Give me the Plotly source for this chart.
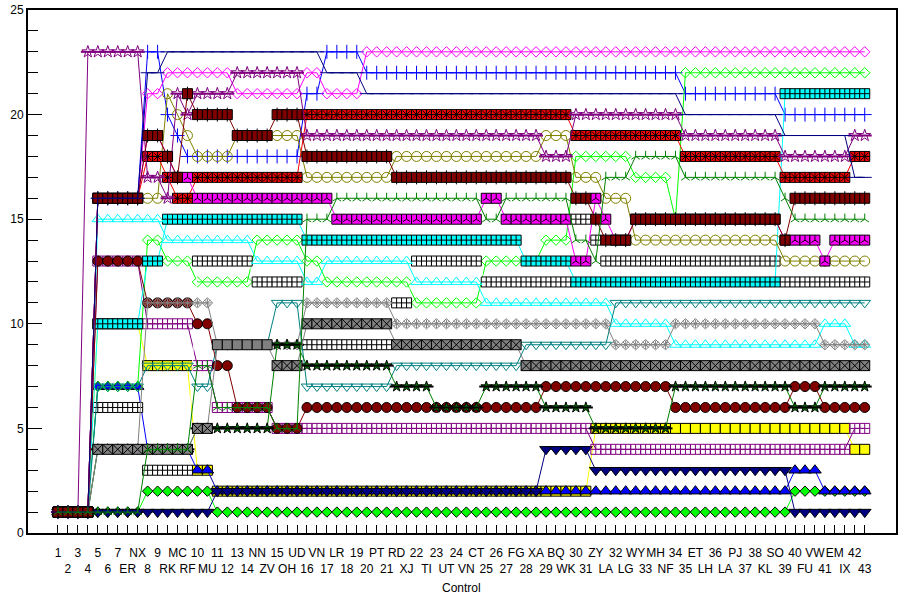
import plotly.graph_objects as go

labels = ["1","2","3","4","5","6","7","ER","NX","8","9","RK","MC","RF","10","MU","11","12","13","14","NN","ZV","15","OH","UD","16","VN","17","LR","18","19","20","PT","21","RD","XJ","22","TI","23","UT","24","VN","CT","25","26","27","FG","28","XA","29","BQ","WK","30","31","ZY","LA","32","LG","WY","33","MH","NF","34","35","ET","LH","36","LA","PJ","37","38","KL","SO","39","40","FU","VW","41","EM","IX","42","43"]

maroon_sq = [1,1,1,1, 16,16,16,16,16, 19,19, 18, 17, 21, 20,20,20,20, 19,19,19,19, 20,20,20, 18,18,18,18,18,18,18,18,18, 17,17,17,17,17,17,17,17,17,17,17,17,17,17,17,17,17,17, 16,16, 15, 14,14,14, 15,15,15,15,15,15,15,15,15,15,15,15,15,15,15, 14, 16,16,16,16,16,16,16,16]
red_sq = [1,1,1,1, 16,16,16,16,16, 18,18, 17, 16,16, 17,17,17,17,17,17,17,17,17,17,17, 20,20,20,20,20,20,20,20,20,20,20,20,20,20,20,20,20,20,20,20,20,20,20,20,20,20,20, 19,19,19,19,19,19,19,19,19,19,19, 18,18,18,18,18,18,18,18,18,18, 17,17,17,17,17,17,17, 18,18]
magenta_sq = [1,1,1,1, 16,16,16,16,16, 19,19, 18, 17, 17, 16,16,16,16,16,16,16,16,16,16,16,16,16,16, 15,15,15,15,15,15,15,15,15,15,15,15,15,15,15, 16,16, 15,15,15,15,15,15,15, 13,13, 16, 15, 14,14, 15,15,15,15,15,15,15,15,15,15,15,15,15,15,15, 14,14,14,14, 13, 14,14,14,14]
cyan_sq = [1,1,1,1, 10,10,10,10,10, 13,13, 15,15,15,15,15,15,15,15,15,15,15,15,15,15, 14,14,14,14,14,14,14,14,14,14,14,14,14,14,14,14,14,14,14,14,14,14, 13,13,13,13,13, 12,12,12,12,12,12,12,12,12,12,12,12,12,12,12,12,12,12,12,12,12, 21,21,21,21,21,21,21,21,21]
white_sq = [1,1,1,1, 6,6,6,6,6, 3,3,3,3,3, 13,13,13,13,13,13, 12,12,12,12,12, 9,9,9,9,9,9,9,9,9, 11,11, 13,13,13,13,13,13,13, 12,12,12,12,12,12,12,12,12, 15,15, 14, 13,13,13,13,13,13,13,13,13,13,13,13,13,13,13,13,13,13, 12,12,12,12,12,12,12,12,12]
gray_x = [1,1,1,1, 4,4,4,4,4,4,4,4,4,4, 5,5, 9,9,9,9,9,9, 8,8,8, 10,10,10,10,10,10,10,10,10, 9,9,9,9,9,9,9,9,9,9,9,9,9, 8,8,8,8,8,8,8,8,8,8,8,8,8,8,8,8,8,8,8,8,8,8,8,8,8,8,8,8,8,8,8,8,8,8,8]
yellow_sq = [1,1,1,1, 10,10,10,10,10, 8,8,8,8,8, 3,3, 2,2,2,2,2,2,2,2,2,2,2,2,2,2,2,2,2,2,2,2,2,2,2,2,2,2,2,2,2,2,2,2,2,2,2,2,2,2, 5,5,5,5,5,5,5,5,5,5,5,5,5,5,5,5,5,5,5,5,5,5,5,5,5,5, 4,4]
navy_down = [1,1,1,1,1,1,1,1,1,1,1,1,1,1,1,1, 2,2,2,2,2,2,2,2,2,2,2,2,2,2,2,2,2,2,2,2,2,2,2,2,2,2,2,2,2,2,2,2,2, 4,4,4,4,4, 3,3,3,3,3,3,3,3,3,3,3,3,3,3,3,3,3,3,3,3, 1,1,1,1,1,1,1,1]
blue_up = [1,1,1,1, 7,7,7,7,7, 4,4,4,4,4, 3,3, 2,2,2,2,2,2,2,2,2,2,2,2,2,2,2,2,2,2,2,2,2,2,2,2,2,2,2,2,2,2,2,2,2,2,2,2,2,2,2,2,2,2,2,2,2,2,2,2,2,2,2,2,2,2,2,2,2,2, 3,3,3, 2,2,2,2,2]
green_dia = [1,1,1,1,1,1,1,1,1, 2,2,2,2,2,2,2, 1,1,1,1,1,1,1,1,1,1,1,1,1,1,1,1,1,1,1,1,1,1,1,1,1,1,1,1,1,1,1,1,1,1,1,1,1,1,1,1,1,1,1,1,1,1,1,1,1,1,1,1,1,1,1,1,1,1, 2,2,2,2,2,2,2,2]
maroon_circ = [1,1,1,1, 13,13,13,13,13, 11,11,11,11,11, 10,10, 8,8, 6,6,6,6, 5,5,5, 6,6,6,6,6,6,6,6,6,6,6,6,6,6,6,6,6,6,6,6,6,6,6,6, 7,7,7,7,7,7,7,7,7,7,7,7,7, 6,6,6,6,6,6,6,6,6,6,6,6, 7,7,7, 6,6,6,6,6]
dark_star = [1,1,1,1, 4,4,4,4,4,4,4,4,4,4, 5,5, 5,5,5,5,5,5, 9,9,9, 8,8,8,8,8,8,8,8,8, 7,7,7,7, 6,6,6,6,6, 7,7,7,7,7,7, 6,6,6,6,6, 5,5,5,5,5,5,5,5, 7,7,7,7,7,7,7,7,7,7,7,7, 6,6,6, 7,7,7,7,7]
purple_grid = [1,1,1,1, 13,13,13,13,13, 10,10,10,10,10, 8,8, 6,6,6,6,6,6, 5,5,5,5,5,5,5,5,5,5,5,5,5,5,5,5,5,5,5,5,5,5,5,5,5,5,5,5,5,5,5,5, 4,4,4,4,4,4,4,4,4,4,4,4,4,4,4,4,4,4,4,4,4,4,4,4,4,4, 5,5]
olive_circ = [1,1,1,1, 16,16,16,16,16, 16,16, 21, 20, 19, 18,18,18,18, 19,19,19,19, 19,19,19, 17,17,17,17,17,17,17,17,17, 18,18,18,18,18,18,18,18,18,18,18,18,18,18,18, 19,19,19, 17,17,17, 16,16,16, 14,14,14,14,14,14,14,14,14,14,14,14,14,14,14, 13,13,13,13,13,13,13,13,13]
bright_dia = [1,1,1,1, 7,7,7,7,7, 14,14, 13,13,13, 12,12,12,12,12,12, 14,14,14,14,14, 13,13, 12,12,12,12,12,12,12,12,12, 11,11,11,11,11,11,11, 13,13,13,13,13,13, 14,14,14, 18,18,18,18,18,18, 17,17,17,17, 15, 22,22,22,22,22,22,22,22,22,22,22,22,22,22,22,22,22,22,22]
green_zig = [1,1,1,1,1,1,1,1,1, 4,4,4,4,4, 8,8, 6,6,6,6,6,6, 5,5,5, 15,15,15, 16,16,16,16,16,16,16,16,16,16,16,16,16,16,16, 15,15, 16,16,16,16,16,16,16, 14,14, 13, 17,17,17, 18,18,18,18,18, 17,17,17,17,17,17,17,17,17,17, 16, 15,15,15,15,15,15,15,15]
magenta_dia = [1,1,1,1, 16,16,16,16,16, 21,21, 22,22,22,22,22,22,22, 21,21,21,21,21,21,21, 22,22, 21,21,21,21, 23,23,23,23,23,23,23,23,23,23,23,23,23,23,23,23,23,23,23,23,23,23,23,23,23,23,23,23,23,23,23,23,23,23,23,23,23,23,23,23,23,23,23,23,23,23,23,23,23,23,23]
purple_star = [1,1,1, 23,23,23,23,23,23, 17,17, 16, 21, 20, 21,21,21,21, 22,22,22,22,22,22,22, 19,19,19,19,19,19,19,19,19,19,19,19,19,19,19,19,19,19,19,19,19,19,19,19, 18,18,18, 20,20,20,20,20,20,20,20,20,20,20, 19,19,19,19,19,19,19,19,19,19, 18,18,18,18,18,18,18, 19,19]
blue_plus = [1,1,1,1, 16,16,16,16,16, 23,23, 20, 19, 18,18,18,18,18,18,18,18,18,18,18,18, 21,21, 23,23,23,23, 22,22,22,22,22,22,22,22,22,22,22,22,22,22,22,22,22,22,22,22,22,22,22,22,22,22,22,22,22,22,22,22, 21,21,21,21,21,21,21,21,21,21, 20,20,20,20,20,20,20,20,20]
navy_line = [1,1,1,1, 16,16,16,16,16, 22,22, 23,23,23,23,23,23,23,23,23,23,23,23,23,23,23,23, 22,22,22,22, 21,21,21,21,21,21,21,21,21,21,21,21,21,21,21,21,21,21,21,21,21,21,21,21,21,21,21,21,21,21,21,21, 20,20,20,20,20,20,20,20,20,20, 19,19,19,19,19,19,19, 17,17]
cyan_tri = [1,1,1,1, 15,15,15,15,15,15,15, 14,14,14,14,14,14,14,14,14, 13,13,13,13,13, 12,12, 13,13,13,13,13,13,13,13,13, 12,12,12,12,12,12,12, 11,11,11,11,11,11,11,11,11,11,11,11,11, 10,10,10,10,10,10, 9,9,9,9,9,9,9,9,9,9,9,9,9,9,9, 10,10,10, 9,9]
teal_tri = [1,1,1,1, 7,7,7,7,7, 8,8,8,8,8, 7,7, 9,9,9,9,9,9, 11,11,11, 7,7,7,7,7,7,7,7,7, 8,8,8,8,8,8,8,8,8,8,8,8,8, 9,9,9,9,9,9,9,9,9, 11,11,11,11,11,11,11,11,11,11,11,11,11,11,11,11,11,11,11,11,11,11,11,11,11,11]
gray_ast = [1,1,1,1, 4,4,4,4,4, 11,11,11,11,11,11,11, 9,9,9,9,9,9, 9,9,9, 11,11,11,11,11,11,11,11,11, 10,10,10,10,10,10,10,10,10,10,10,10,10,10,10,10,10,10,10,10,10,10, 9,9,9,9,9,9, 10,10,10,10,10,10,10,10,10,10,10,10,10,10,10, 9,9,9,9,9]

MAROON, RED, MAGENTA, CYAN = "#800000", "#ff0000", "#ff00ff", "#00ffff"
GRAY, YELLOW, NAVY, BLUE = "#808080", "#ffff00", "#000080", "#0000ff"
LIME, DKGREEN, TEAL, PURPLE, OLIVE = "#00ff00", "#008000", "#008080", "#800080", "#808000"

xs = list(range(len(labels)))
fig = go.Figure()

def add(values, linecolor, symbol, fill=None, edge="black", size=10, ew=1, lw=1, over=()):
    assert len(values) == len(labels), (linecolor, len(values))
    fig.add_trace(go.Scatter(
        x=xs, y=values, mode="lines+markers",
        line=dict(color=linecolor, width=lw),
        marker=dict(symbol=symbol, size=size, color=fill if fill else edge,
                    line=dict(color=edge, width=ew)),
        showlegend=False, cliponaxis=False))
    for sym, col, sz, w in over:
        fig.add_trace(go.Scatter(
            x=xs, y=values, mode="markers",
            marker=dict(symbol=sym, size=sz, color=col, line=dict(color=col, width=w)),
            showlegend=False, cliponaxis=False))

gray_symbols = ["square" if 16 <= i <= 21 else "square-x" for i in xs]

add(yellow_sq, YELLOW, "square", YELLOW)
add(green_dia, LIME, "diamond", LIME, size=8)
add(blue_up, BLUE, "triangle-up", BLUE, size=11)
add(navy_down, NAVY, "triangle-down", NAVY, size=11)
add(blue_plus, BLUE, "cross-thin", None, edge=BLUE, size=10)
add(magenta_dia, MAGENTA, "diamond-open", None, edge=MAGENTA, size=8)
add(bright_dia, LIME, "diamond-open", None, edge=LIME, size=8)
add(purple_grid, PURPLE, "square-cross", "rgba(0,0,0,0)", edge=PURPLE)
add(white_sq, "#ffffff", "square-cross", "#ffffff")
add(cyan_sq, CYAN, "square-cross", CYAN)
add(cyan_tri, CYAN, "triangle-up-open", None, edge=CYAN, size=10)
add(teal_tri, TEAL, "triangle-down-open", None, edge=TEAL, size=10)
add(maroon_circ, MAROON, "circle", MAROON, size=10)
add(gray_ast, GRAY, "diamond-open", None, edge=GRAY, size=8, over=[("asterisk", GRAY, 7, 1)])
add(dark_star, DKGREEN, "star", DKGREEN, size=8, over=[("line-ew", "black", 10, 2)])
fig.add_trace(go.Scatter(x=xs, y=gray_x, mode="lines+markers", line=dict(color=GRAY, width=1),
    marker=dict(symbol=gray_symbols, size=10, color=GRAY, line=dict(color="black", width=1)),
    showlegend=False, cliponaxis=False))
add(olive_circ, OLIVE, "circle-open", None, edge=OLIVE, size=10)
add(red_sq, RED, "square", RED, over=[("asterisk", "black", 9, 1)])
add(magenta_sq, MAGENTA, "square", MAGENTA, over=[("y-up", "black", 6, 1)])
add(purple_star, PURPLE, "star-open", None, edge=PURPLE, size=9, over=[("line-ew", PURPLE, 10, 2)])
add(maroon_sq, MAROON, "square", MAROON, over=[("line-ns", "black", 10, 1)])
add(navy_line, NAVY, "line-ew", None, edge=NAVY, size=10)
add(green_zig, DKGREEN, "y-up", None, edge=DKGREEN, size=7)

ticktext = [t if i % 2 == 0 else "<br>" + t for i, t in enumerate(labels)]
FONT = dict(family="Liberation Sans", size=12, color="black")

fig.update_layout(
    width=905, height=598, autosize=False,
    margin=dict(l=28, r=9, t=10, b=65),
    paper_bgcolor="white", plot_bgcolor="white",
    font=FONT, showlegend=False,
    xaxis=dict(range=[-3.01, 84.14], tickmode="array", tickvals=xs, ticktext=ticktext,
               tickangle=0, ticks="inside", ticklen=8, tickwidth=1, tickcolor="black",
               showgrid=False, zeroline=False, showline=True, linecolor="black", linewidth=2,
               mirror=True, ticklabelstandoff=8, tickfont=FONT, automargin=False,
               title=dict(text="")),
    yaxis=dict(range=[0, 25], tickmode="linear", tick0=0, dtick=5, ticks="inside", ticklen=14,
               tickwidth=1, tickcolor="black", showgrid=False, zeroline=False, showline=True,
               linecolor="black", linewidth=2, mirror=True, tickfont=FONT, automargin=False,
               minor=dict(dtick=1, ticks="inside", ticklen=10, tickwidth=1, tickcolor="black", showgrid=False)),
    annotations=[dict(text="Control", xref="x", yref="paper", x=40.5, y=0, yanchor="middle",
                      xanchor="center", yshift=-55, showarrow=False, font=FONT)],
)
fig.write_html("out.html", config={"displayModeBar": False},
               post_script="document.body.style.margin='0';document.documentElement.style.overflow='hidden';")
